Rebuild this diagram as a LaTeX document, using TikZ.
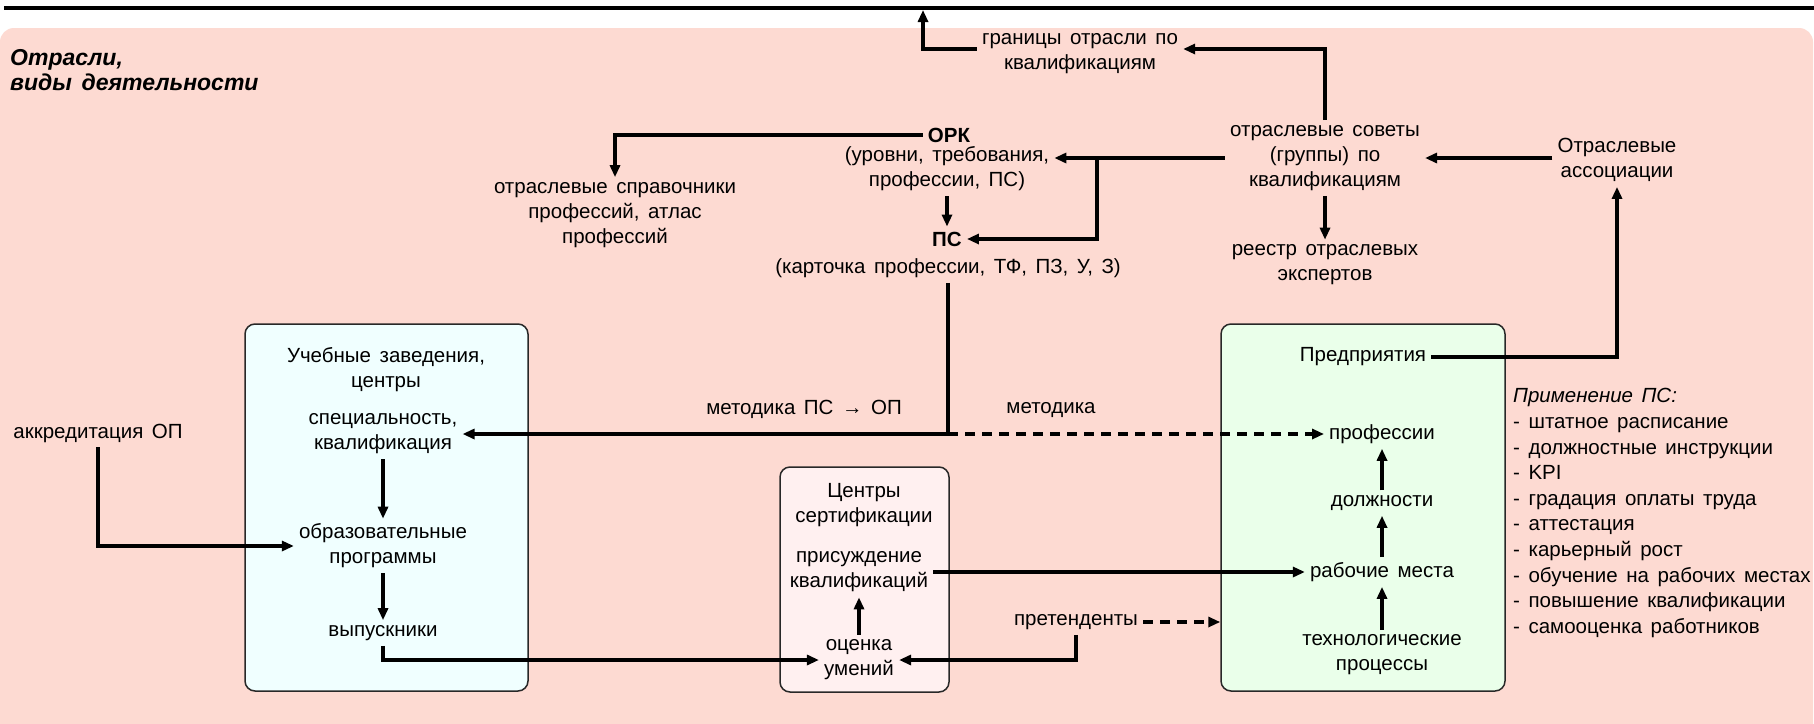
\documentclass[tikz,border=0pt]{standalone}
\usepackage{fontspec}
\setmainfont[WordSpace=1.5]{Liberation Sans}
\usepackage{tikz}
\usetikzlibrary{positioning, arrows.meta}

\definecolor{sectorbg}{RGB}{253,218,210}
\definecolor{edufill}{RGB}{240,255,255}
\definecolor{certfill}{RGB}{255,240,240}
\definecolor{entfill}{RGB}{234,255,234}
\definecolor{panelline}{RGB}{40,40,40}

\begin{document}
\begin{tikzpicture}[
    x=1pt, y=-1pt,
    txt/.style={align=center, inner sep=5pt, font=\fontsize{20.5}{25}\selectfont},
    panel/.style={rectangle, rounded corners=10pt, draw=panelline, line width=1.5pt},
    arr/.style={-{Triangle[length=12pt,width=10pt]}, line width=3.2pt},
    dasharr/.style={arr, dash pattern=on 10pt off 7pt},
    title/.style={font=\fontsize{23}{25}\selectfont\bfseries\itshape, align=left, anchor=west, inner sep=2pt},
]

% Canvas
\useasboundingbox (0,0) rectangle (1814,723);
\fill[white] (0,0) rectangle (1814,723);
\fill[sectorbg, rounded corners=14pt] (0,28) rectangle (1813,760);
\draw[line width=3.2pt] (4,8) -- (1814,8);
\coordinate (edge) at (923,10);

\node[title] (sector) at (8,70) {Отрасли,\\виды деятельности};

% Row 1 - sector level
\node[txt] (bounds) at (1080,54) {границы отрасли по\\квалификациям};
\node[txt] (council) at (1325,158) {отраслевые советы\\(группы) по\\квалификациям};
\node[txt] (assoc) at (1617,160) {Отраслевые\\ассоциации};
\node[txt] (registry) at (1325,265) {реестр отраслевых\\экспертов};
\node[txt] (ork) at (949,135) {\textbf{ОРК}};
\node[txt] (orkinfo) at (947,169) {(уровни, требования,\\профессии, ПС)};
\node[txt] (refbooks) at (615,215) {отраслевые справочники\\профессий, атлас\\профессий};
\node[txt] (ps) at (947,239) {\textbf{ПС}};
\node[txt] (pscard) at (948,268) {(карточка профессии, ТФ, ПЗ, У, З)};
\path (council.west) ++(-128,0) coordinate (fork);

% Row 2 - panels
\node[panel, fill=edufill, minimum width=283pt, minimum height=367pt] (edu) at (386.5,507.5) {};
\node[panel, fill=certfill, minimum width=169pt, minimum height=225pt] (cert) at (864.5,579.5) {};
\node[panel, fill=entfill, minimum width=284pt, minimum height=367pt] (ent) at (1363,507.5) {};

% Education
\node[txt] (eduname) at (386,370) {Учебные заведения,\\центры};
\node[txt] (spec) at (383,434) {специальность,\\квалификация};
\node[txt] (prog) at (383,546) {образовательные\\программы};
\node[txt] (grads) at (383,633) {выпускники};
\node[txt] (accr) at (98,433) {аккредитация ОП};

% Certification
\node[txt] (certname) at (864,505) {Центры\\сертификации};
\node[txt] (award) at (859,572) {присуждение\\квалификаций};
\node[txt] (skill) at (859,660) {оценка\\умений};
\node[txt] (appl) at (1076,622) {претенденты};

% Enterprises
\node[txt] (entname) at (1363,357) {Предприятия};
\node[txt] (prof) at (1382,434) {профессии};
\node[txt] (posts) at (1382,503) {должности};
\node[txt] (work) at (1382,572) {рабочие места};
\node[txt] (tech) at (1382,655) {технологические\\процессы};
\node[txt, align=left, anchor=west, font=\fontsize{20.5}{25.6}\selectfont] (usage) at (1508,513) {
    \textit{Применение ПС:}\\
    - штатное расписание\\
    - должностные инструкции\\
    - KPI\\
    - градация оплаты труда\\
    - аттестация\\
    - карьерный рост\\
    - обучение на рабочих местах\\
    - повышение квалификации\\
    - самооценка работников
};

% Labels
\node[txt] (method1) at (804,409) {методика ПС → ОП};
\node[txt] (method2) at (1051,410) {методика};

% Connectors
\draw[arr] ([yshift=5pt]bounds.west) -| (edge);
\draw[arr] (council.north) |- ([yshift=5pt]bounds.east);
\draw[arr] (assoc.west |- council.east) -- (council.east);
\draw[arr] (council.south) -- (registry.north);
\draw[arr] (council.west) -- (fork) -- (fork -| orkinfo.east);
\draw[arr] (fork) |- (ps.east);
\draw[arr] (ork.west) -| (refbooks.north);
\draw[arr] (orkinfo.south) -- (ps.north);

\coordinate (split) at (pscard.south |- spec.east);
\draw[arr] (pscard.south) -- (split) -- (spec.east);
\draw[dasharr] (split) -- (split -| prof.west);

\draw[arr] (spec.south) -- (prog.north);
\draw[arr] (prog.south) -- (grads.north);
\draw[arr] (grads.south) |- (skill.west);
\draw[arr] (accr.south) |- (prog.west);

\draw[arr] (skill.north) -- (award.south);
\draw[arr] (award.east) -- (award.east -| work.west);
\draw[arr] (appl.south) |- (skill.east);
\draw[dasharr] (appl.east) -- (appl.east -| ent.west);

\draw[arr] (posts.north) -- (prof.south);
\draw[arr] (work.north) -- (posts.south);
\draw[arr] (tech.north) -- (work.south);
\draw[arr] (entname.east) -| (assoc.south);

\end{tikzpicture}
\end{document}
